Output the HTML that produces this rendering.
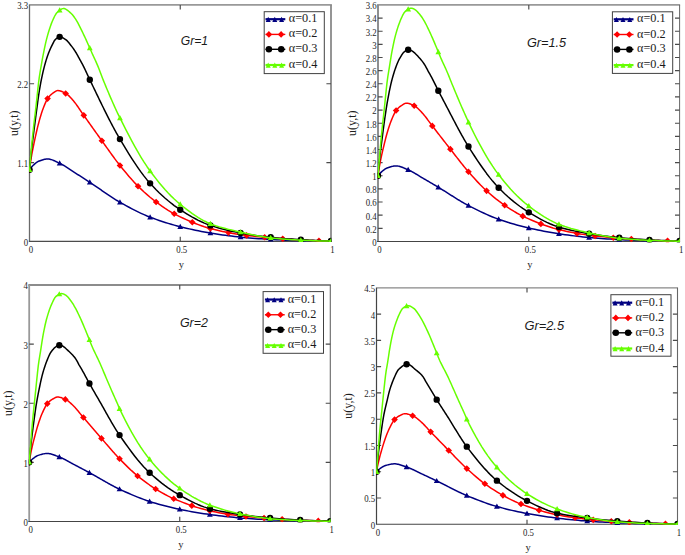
<!DOCTYPE html>
<html lang="en">
<head>
<meta charset="utf-8">
<title>u(y,t) profiles for different Gr</title>
<style>
html,body{margin:0;padding:0;background:#fff;}
body{width:685px;height:555px;overflow:hidden;}
svg{display:block;}
</style>
</head>
<body>
<svg width="685" height="555" viewBox="0 0 685 555">
<rect width="685" height="555" fill="#ffffff"/>
<g>
<path d="M28.85 4.95H331.90" stroke="#999999" stroke-width="1.70" fill="none"/>
<path d="M331.00 4.95V241.40" stroke="#8a8a8a" stroke-width="1.80" fill="none"/>
<path d="M29.50 4.95V241.40" stroke="#6a6a6a" stroke-width="1.30" fill="none"/>
<path d="M28.85 241.40H331.90" stroke="#4c4c4c" stroke-width="1.10" fill="none"/>
<path d="M29.50 162.58h4.6M331.00 162.58h-4.6M29.50 83.77h4.6M331.00 83.77h-4.6M180.25 4.95v4.6M180.25 241.40v-4.6" stroke="#4a4a4a" stroke-width="1.15" fill="none"/>
<g font-family='"Liberation Serif", "DejaVu Serif", serif' font-size="10" fill="#1e1e1e" text-anchor="end">
<text transform="translate(28.20 245.80) scale(0.88 1)">0</text>
<text transform="translate(28.20 166.98) scale(0.88 1)">1.1</text>
<text transform="translate(28.20 88.17) scale(0.88 1)">2.2</text>
<text transform="translate(28.20 9.35) scale(0.88 1)">3.3</text>
</g>
<g font-family='"Liberation Serif", "DejaVu Serif", serif' font-size="10" fill="#1e1e1e" text-anchor="middle">
<text transform="translate(31.00 252.90) scale(0.88 1)">0</text>
<text transform="translate(181.75 252.90) scale(0.88 1)">0.5</text>
<text transform="translate(332.50 252.90) scale(0.88 1)">1</text>
</g>
<text x="181.25" y="268.00" font-family='"Liberation Serif", "DejaVu Serif", serif' font-size="10.5" fill="#1e1e1e" text-anchor="middle">y</text>
<text transform="translate(18.00 123.17) rotate(-90)" font-family='"Liberation Serif", "DejaVu Serif", serif' font-size="12" fill="#1e1e1e" text-anchor="middle">u(y,t)</text>
<text x="180.80" y="44.80" font-family='"Liberation Sans", "DejaVu Sans", sans-serif' font-size="13.2" font-style="italic" fill="#1a1a1a" textLength="27.3" lengthAdjust="spacingAndGlyphs">Gr=1</text>
<clipPath id="c0"><rect x="29.20" y="4.95" width="302.10" height="237.15"/></clipPath>
<g clip-path="url(#c0)">
<path d="M29.50 169.75L30.25 168.74L31.01 167.78L31.76 166.88L32.52 166.05L33.27 165.31L34.02 164.60L34.78 163.91L35.53 163.25L36.28 162.64L37.04 162.10L37.79 161.65L38.55 161.29L39.30 161.00L40.05 160.71L40.81 160.43L41.56 160.17L42.31 159.92L43.07 159.70L43.82 159.50L44.58 159.33L45.33 159.19L46.08 159.09L46.84 159.02L47.59 159.00L48.34 159.03L49.10 159.11L49.85 159.24L50.61 159.42L51.36 159.64L52.11 159.89L52.87 160.17L53.62 160.48L54.37 160.80L55.13 161.15L55.88 161.51L56.63 161.87L57.39 162.23L58.14 162.60L58.90 162.95L59.65 163.30L60.40 163.65L61.16 164.02L61.91 164.42L62.66 164.83L63.42 165.26L64.17 165.71L64.93 166.17L65.68 166.64L66.43 167.12L67.19 167.61L67.94 168.11L68.69 168.62L69.45 169.12L70.20 169.63L70.96 170.14L71.71 170.65L72.46 171.15L73.22 171.65L73.97 172.13L74.72 172.61L75.48 173.09L76.23 173.57L76.99 174.04L77.74 174.52L78.49 175.00L79.25 175.48L80.00 175.96L80.75 176.44L81.51 176.93L82.26 177.41L83.02 177.90L83.77 178.38L84.52 178.87L85.28 179.35L86.03 179.84L86.78 180.33L87.54 180.82L88.29 181.31L89.05 181.80L89.80 182.29L90.55 182.78L91.31 183.28L92.06 183.78L92.81 184.28L93.57 184.79L94.32 185.30L95.08 185.82L95.83 186.33L96.58 186.85L97.34 187.37L98.09 187.89L98.84 188.41L99.60 188.94L100.35 189.46L101.11 189.99L101.86 190.51L102.61 191.04L103.37 191.56L104.12 192.08L104.88 192.60L105.63 193.12L106.38 193.64L107.14 194.15L107.89 194.67L108.64 195.18L109.40 195.68L110.15 196.19L110.91 196.69L111.66 197.18L112.41 197.67L113.17 198.16L113.92 198.64L114.67 199.12L115.43 199.59L116.18 200.05L116.93 200.51L117.69 200.96L118.44 201.41L119.20 201.85L119.95 202.28L122.97 203.97L125.98 205.64L129.00 207.28L132.01 208.87L135.02 210.41L138.04 211.90L141.06 213.33L144.07 214.69L147.09 215.98L150.10 217.18L153.12 218.32L156.13 219.42L159.15 220.47L162.16 221.48L165.17 222.45L168.19 223.38L171.20 224.27L174.22 225.12L177.23 225.93L180.25 226.71L183.27 227.46L186.28 228.18L189.30 228.88L192.31 229.55L195.33 230.19L198.34 230.81L201.36 231.40L204.37 231.97L207.38 232.51L210.40 233.02L213.41 233.51L216.43 233.98L219.44 234.44L222.46 234.89L225.47 235.31L228.49 235.72L231.50 236.10L234.52 236.46L237.53 236.79L240.55 237.10L243.56 237.39L246.58 237.66L249.59 237.92L252.61 238.17L255.62 238.41L258.64 238.63L261.65 238.84L264.67 239.04L267.69 239.22L270.70 239.39L273.72 239.56L276.73 239.71L279.75 239.87L282.76 240.01L285.78 240.15L288.79 240.27L291.81 240.39L294.82 240.50L297.83 240.60L300.85 240.68L303.86 240.76L306.88 240.84L309.89 240.91L312.91 240.98L315.93 241.04L318.94 241.10L321.95 241.15L324.97 241.19L327.99 241.23L331.00 241.26" stroke="#000080" stroke-width="1.5" fill="none" stroke-linejoin="round" stroke-linecap="round"/>
<path d="M29.50 166.75L32.40 171.95L26.60 171.95ZM59.65 160.30L62.55 165.50L56.75 165.50ZM89.80 179.29L92.70 184.49L86.90 184.49ZM119.95 199.28L122.85 204.48L117.05 204.48ZM150.10 214.18L153.00 219.38L147.20 219.38ZM180.25 223.71L183.15 228.91L177.35 228.91ZM210.40 230.02L213.30 235.22L207.50 235.22ZM240.55 234.10L243.45 239.30L237.65 239.30ZM270.70 236.39L273.60 241.59L267.80 241.59ZM300.85 237.68L303.75 242.88L297.95 242.88ZM331.00 238.26L333.90 243.46L328.10 243.46Z" fill="#000080"/>
<path d="M29.50 169.75L30.25 164.21L31.01 159.23L31.76 154.73L32.52 150.62L33.27 146.79L34.02 143.15L34.78 139.63L35.53 136.17L36.28 132.77L37.04 129.48L37.79 126.37L38.55 123.47L39.30 120.68L40.05 118.00L40.81 115.45L41.56 113.06L42.31 110.86L43.07 108.81L43.82 106.81L44.58 104.89L45.33 103.07L46.08 101.39L46.84 99.90L47.59 98.62L48.34 97.57L49.10 96.64L49.85 95.80L50.61 95.04L51.36 94.35L52.11 93.74L52.87 93.18L53.62 92.66L54.37 92.12L55.13 91.61L55.88 91.16L56.63 90.81L57.39 90.61L58.14 90.58L58.90 90.65L59.65 90.78L60.40 90.98L61.16 91.23L61.91 91.53L62.66 91.87L63.42 92.24L64.17 92.63L64.93 93.04L65.68 93.46L66.43 93.88L67.19 94.38L67.94 94.97L68.69 95.64L69.45 96.37L70.20 97.17L70.96 98.00L71.71 98.86L72.46 99.74L73.22 100.61L73.97 101.49L74.72 102.42L75.48 103.40L76.23 104.41L76.99 105.46L77.74 106.54L78.49 107.63L79.25 108.75L80.00 109.87L80.75 110.99L81.51 112.11L82.26 113.21L83.02 114.30L83.77 115.36L84.52 116.42L85.28 117.48L86.03 118.54L86.78 119.60L87.54 120.66L88.29 121.72L89.05 122.78L89.80 123.84L90.55 124.91L91.31 125.97L92.06 127.03L92.81 128.09L93.57 129.15L94.32 130.21L95.08 131.27L95.83 132.32L96.58 133.38L97.34 134.43L98.09 135.49L98.84 136.54L99.60 137.59L100.35 138.64L101.11 139.69L101.86 140.73L102.61 141.78L103.37 142.83L104.12 143.88L104.88 144.94L105.63 146.00L106.38 147.06L107.14 148.12L107.89 149.18L108.64 150.23L109.40 151.29L110.15 152.35L110.91 153.40L111.66 154.44L112.41 155.49L113.17 156.52L113.92 157.55L114.67 158.57L115.43 159.59L116.18 160.59L116.93 161.58L117.69 162.57L118.44 163.54L119.20 164.50L119.95 165.45L122.97 169.19L125.98 172.85L129.00 176.42L132.01 179.86L135.02 183.14L138.04 186.23L141.06 189.16L144.07 191.97L147.09 194.66L150.10 197.23L153.12 199.68L156.13 201.99L159.15 204.22L162.16 206.37L165.17 208.43L168.19 210.37L171.20 212.17L174.22 213.81L177.23 215.34L180.25 216.83L183.27 218.27L186.28 219.66L189.30 221.00L192.31 222.28L195.33 223.49L198.34 224.64L201.36 225.72L204.37 226.73L207.38 227.66L210.40 228.50L213.41 229.29L216.43 230.03L219.44 230.74L222.46 231.40L225.47 232.03L228.49 232.62L231.50 233.17L234.52 233.68L237.53 234.15L240.55 234.59L243.56 235.00L246.58 235.39L249.59 235.75L252.61 236.09L255.62 236.41L258.64 236.72L261.65 237.01L264.67 237.29L267.69 237.56L270.70 237.82L273.72 238.07L276.73 238.32L279.75 238.57L282.76 238.80L285.78 239.03L288.79 239.24L291.81 239.45L294.82 239.63L297.83 239.81L300.85 239.97L303.86 240.11L306.88 240.26L309.89 240.39L312.91 240.52L315.93 240.65L318.94 240.76L321.95 240.87L324.97 240.96L327.99 241.04L331.00 241.11" stroke="#ff0000" stroke-width="1.5" fill="none" stroke-linejoin="round" stroke-linecap="round"/>
<path d="M29.50 166.45L32.80 169.75L29.50 173.05L26.20 169.75ZM47.59 95.32L50.89 98.62L47.59 101.92L44.29 98.62ZM65.68 90.16L68.98 93.46L65.68 96.76L62.38 93.46ZM83.77 112.06L87.07 115.36L83.77 118.66L80.47 115.36ZM101.86 137.43L105.16 140.73L101.86 144.03L98.56 140.73ZM119.95 162.15L123.25 165.45L119.95 168.75L116.65 165.45ZM138.04 182.93L141.34 186.23L138.04 189.53L134.74 186.23ZM156.13 198.69L159.43 201.99L156.13 205.29L152.83 201.99ZM174.22 210.51L177.52 213.81L174.22 217.11L170.92 213.81ZM192.31 218.98L195.61 222.28L192.31 225.58L189.01 222.28ZM210.40 225.20L213.70 228.50L210.40 231.80L207.10 228.50ZM228.49 229.32L231.79 232.62L228.49 235.92L225.19 232.62ZM246.58 232.09L249.88 235.39L246.58 238.69L243.28 235.39ZM264.67 233.99L267.97 237.29L264.67 240.59L261.37 237.29ZM282.76 235.50L286.06 238.80L282.76 242.10L279.46 238.80ZM300.85 236.67L304.15 239.97L300.85 243.27L297.55 239.97ZM318.94 237.46L322.24 240.76L318.94 244.06L315.64 240.76Z" fill="#ff0000"/>
<path d="M29.50 169.75L30.25 161.42L31.01 153.99L31.76 147.59L32.52 141.74L33.27 135.83L34.02 129.90L34.78 124.05L35.53 118.31L36.28 112.66L37.04 107.03L37.79 101.29L38.55 95.81L39.30 90.96L40.05 86.51L40.81 82.40L41.56 78.61L42.31 75.04L43.07 71.68L43.82 68.56L44.58 65.67L45.33 62.95L46.08 60.37L46.84 57.96L47.59 55.71L48.34 53.63L49.10 51.71L49.85 49.93L50.61 48.26L51.36 46.68L52.11 45.14L52.87 43.57L53.62 42.05L54.37 40.71L55.13 39.69L55.88 38.99L56.63 38.35L57.39 37.78L58.14 37.32L58.90 36.99L59.65 36.84L60.40 36.88L61.16 37.04L61.91 37.31L62.66 37.67L63.42 38.09L64.17 38.55L64.93 39.04L65.68 39.54L66.43 40.13L67.19 40.84L67.94 41.66L68.69 42.54L69.45 43.49L70.20 44.46L70.96 45.43L71.71 46.39L72.46 47.38L73.22 48.42L73.97 49.50L74.72 50.62L75.48 51.78L76.23 52.99L76.99 54.29L77.74 55.65L78.49 57.05L79.25 58.46L80.00 59.83L80.75 61.18L81.51 62.54L82.26 63.93L83.02 65.36L83.77 66.85L84.52 68.41L85.28 70.01L86.03 71.64L86.78 73.28L87.54 74.93L88.29 76.56L89.05 78.17L89.80 79.73L90.55 81.29L91.31 82.85L92.06 84.41L92.81 85.98L93.57 87.54L94.32 89.11L95.08 90.68L95.83 92.25L96.58 93.81L97.34 95.38L98.09 96.94L98.84 98.50L99.60 100.06L100.35 101.62L101.11 103.17L101.86 104.72L102.61 106.26L103.37 107.79L104.12 109.32L104.88 110.85L105.63 112.36L106.38 113.87L107.14 115.37L107.89 116.86L108.64 118.34L109.40 119.82L110.15 121.28L110.91 122.73L111.66 124.17L112.41 125.59L113.17 127.01L113.92 128.41L114.67 129.80L115.43 131.17L116.18 132.53L116.93 133.87L117.69 135.20L118.44 136.51L119.20 137.80L119.95 139.08L122.97 144.13L125.98 149.12L129.00 154.02L132.01 158.80L135.02 163.43L138.04 167.88L141.06 172.13L144.07 176.15L147.09 179.90L150.10 183.36L153.12 186.60L156.13 189.71L159.15 192.68L162.16 195.51L165.17 198.22L168.19 200.79L171.20 203.22L174.22 205.53L177.23 207.70L180.25 209.73L183.27 211.67L186.28 213.55L189.30 215.37L192.31 217.11L195.33 218.76L198.34 220.32L201.36 221.78L204.37 223.12L207.38 224.34L210.40 225.42L213.41 226.41L216.43 227.33L219.44 228.19L222.46 229.00L225.47 229.76L228.49 230.48L231.50 231.15L234.52 231.78L237.53 232.38L240.55 232.95L243.56 233.49L246.58 234.01L249.59 234.51L252.61 234.99L255.62 235.44L258.64 235.87L261.65 236.27L264.67 236.65L267.69 236.99L270.70 237.32L273.72 237.62L276.73 237.90L279.75 238.17L282.76 238.43L285.78 238.67L288.79 238.90L291.81 239.12L294.82 239.32L297.83 239.51L300.85 239.68L303.86 239.84L306.88 240.00L309.89 240.16L312.91 240.30L315.93 240.44L318.94 240.57L321.95 240.69L324.97 240.79L327.99 240.89L331.00 240.97" stroke="#000000" stroke-width="1.5" fill="none" stroke-linejoin="round" stroke-linecap="round"/>
<path d="M26.30 169.75a3.2 3.2 0 1 0 6.4 0a3.2 3.2 0 1 0 -6.4 0ZM56.45 36.84a3.2 3.2 0 1 0 6.4 0a3.2 3.2 0 1 0 -6.4 0ZM86.60 79.73a3.2 3.2 0 1 0 6.4 0a3.2 3.2 0 1 0 -6.4 0ZM116.75 139.08a3.2 3.2 0 1 0 6.4 0a3.2 3.2 0 1 0 -6.4 0ZM146.90 183.36a3.2 3.2 0 1 0 6.4 0a3.2 3.2 0 1 0 -6.4 0ZM177.05 209.73a3.2 3.2 0 1 0 6.4 0a3.2 3.2 0 1 0 -6.4 0ZM207.20 225.42a3.2 3.2 0 1 0 6.4 0a3.2 3.2 0 1 0 -6.4 0ZM237.35 232.95a3.2 3.2 0 1 0 6.4 0a3.2 3.2 0 1 0 -6.4 0ZM267.50 237.32a3.2 3.2 0 1 0 6.4 0a3.2 3.2 0 1 0 -6.4 0ZM297.65 239.68a3.2 3.2 0 1 0 6.4 0a3.2 3.2 0 1 0 -6.4 0ZM327.80 240.97a3.2 3.2 0 1 0 6.4 0a3.2 3.2 0 1 0 -6.4 0Z" fill="#000000"/>
<path d="M29.50 169.75L30.25 160.80L31.01 152.33L31.76 144.32L32.52 136.74L33.27 129.52L34.02 122.78L34.78 116.73L35.53 110.70L36.28 103.92L37.04 96.76L37.79 89.69L38.55 82.80L39.30 77.18L40.05 72.39L40.81 67.97L41.56 63.62L42.31 59.39L43.07 55.36L43.82 51.55L44.58 47.89L45.33 44.38L46.08 41.11L46.84 38.14L47.59 35.35L48.34 32.71L49.10 30.23L49.85 27.90L50.61 25.70L51.36 23.63L52.11 21.71L52.87 19.97L53.62 18.35L54.37 16.75L55.13 15.28L55.88 14.03L56.63 13.09L57.39 12.32L58.14 11.59L58.90 10.89L59.65 10.26L60.40 9.69L61.16 9.23L61.91 8.86L62.66 8.63L63.42 8.53L64.17 8.59L64.93 8.79L65.68 9.12L66.43 9.55L67.19 10.07L67.94 10.65L68.69 11.28L69.45 11.93L70.20 12.59L70.96 13.25L71.71 13.98L72.46 14.82L73.22 15.75L73.97 16.76L74.72 17.83L75.48 18.94L76.23 20.08L76.99 21.34L77.74 22.70L78.49 24.14L79.25 25.60L80.00 27.06L80.75 28.56L81.51 30.08L82.26 31.64L83.02 33.22L83.77 34.81L84.52 36.43L85.28 38.05L86.03 39.68L86.78 41.32L87.54 43.00L88.29 44.69L89.05 46.40L89.80 48.11L90.55 49.82L91.31 51.52L92.06 53.20L92.81 54.86L93.57 56.49L94.32 58.12L95.08 59.76L95.83 61.42L96.58 63.11L97.34 64.85L98.09 66.66L98.84 68.55L99.60 70.51L100.35 72.50L101.11 74.51L101.86 76.51L102.61 78.48L103.37 80.38L104.12 82.22L104.88 84.05L105.63 85.87L106.38 87.68L107.14 89.49L107.89 91.28L108.64 93.06L109.40 94.83L110.15 96.59L110.91 98.34L111.66 100.07L112.41 101.78L113.17 103.48L113.92 105.17L114.67 106.83L115.43 108.48L116.18 110.11L116.93 111.72L117.69 113.31L118.44 114.88L119.20 116.42L119.95 117.94L122.97 123.95L125.98 129.88L129.00 135.70L132.01 141.37L135.02 146.89L138.04 152.20L141.06 157.30L144.07 162.14L147.09 166.71L150.10 170.97L153.12 175.00L156.13 178.90L159.15 182.66L162.16 186.26L165.17 189.71L168.19 193.00L171.20 196.12L174.22 199.05L177.23 201.80L180.25 204.36L183.27 206.78L186.28 209.14L189.30 211.42L192.31 213.60L195.33 215.67L198.34 217.61L201.36 219.41L204.37 221.04L207.38 222.50L210.40 223.77L213.41 224.90L216.43 225.93L219.44 226.88L222.46 227.76L225.47 228.58L228.49 229.36L231.50 230.09L234.52 230.79L237.53 231.48L240.55 232.16L243.56 232.83L246.58 233.50L249.59 234.16L252.61 234.80L255.62 235.41L258.64 235.99L261.65 236.53L264.67 237.02L267.69 237.45L270.70 237.82L273.72 238.14L276.73 238.45L279.75 238.73L282.76 239.00L285.78 239.25L288.79 239.48L291.81 239.68L294.82 239.87L297.83 240.04L300.85 240.18L303.86 240.31L306.88 240.44L309.89 240.57L312.91 240.68L315.93 240.79L318.94 240.88L321.95 240.96L324.97 241.03L327.99 241.08L331.00 241.11" stroke="#66ff00" stroke-width="1.5" fill="none" stroke-linejoin="round" stroke-linecap="round"/>
<path d="M29.50 166.75L32.40 171.95L26.60 171.95ZM59.65 7.26L62.55 12.46L56.75 12.46ZM89.80 45.11L92.70 50.31L86.90 50.31ZM119.95 114.94L122.85 120.14L117.05 120.14ZM150.10 167.97L153.00 173.17L147.20 173.17ZM180.25 201.36L183.15 206.56L177.35 206.56ZM210.40 220.77L213.30 225.97L207.50 225.97ZM240.55 229.16L243.45 234.36L237.65 234.36ZM270.70 234.82L273.60 240.02L267.80 240.02ZM300.85 237.18L303.75 242.38L297.95 242.38ZM331.00 238.11L333.90 243.31L328.10 243.31Z" fill="#66ff00"/>
</g>
<rect x="264.20" y="11.70" width="60.10" height="61.90" fill="#ffffff" stroke="#404040" stroke-width="1"/>
<path d="M265.50 19.20H285.30" stroke="#000080" stroke-width="2.2" fill="none"/>
<path d="M268.20 16.80L270.70 21.90L265.70 21.90ZM274.80 16.80L277.30 21.90L272.30 21.90ZM281.60 16.80L284.10 21.90L279.10 21.90Z" fill="#000080"/>
<text x="288.80" y="22.20" font-family='"Liberation Serif", "DejaVu Serif", serif' font-size="12.3" fill="#1a1a1a" textLength="28.6" lengthAdjust="spacingAndGlyphs">α=0.1</text>
<path d="M265.50 34.40H285.30" stroke="#ff0000" stroke-width="1.4" fill="none"/>
<path d="M268.90 31.10L272.20 34.40L268.90 37.70L265.60 34.40ZM281.10 31.10L284.40 34.40L281.10 37.70L277.80 34.40Z" fill="#ff0000"/>
<text x="288.80" y="37.40" font-family='"Liberation Serif", "DejaVu Serif", serif' font-size="12.3" fill="#1a1a1a" textLength="28.6" lengthAdjust="spacingAndGlyphs">α=0.2</text>
<path d="M265.50 49.30H285.30" stroke="#000000" stroke-width="1.4" fill="none"/>
<circle cx="268.90" cy="49.30" r="3.25" fill="#000000"/><circle cx="281.20" cy="49.30" r="3.25" fill="#000000"/>
<text x="288.80" y="52.30" font-family='"Liberation Serif", "DejaVu Serif", serif' font-size="12.3" fill="#1a1a1a" textLength="28.6" lengthAdjust="spacingAndGlyphs">α=0.3</text>
<path d="M265.50 65.00H285.30" stroke="#66ff00" stroke-width="2.2" fill="none"/>
<path d="M268.20 62.60L270.70 67.70L265.70 67.70ZM274.80 62.60L277.30 67.70L272.30 67.70ZM281.60 62.60L284.10 67.70L279.10 67.70Z" fill="#66ff00"/>
<text x="288.80" y="68.00" font-family='"Liberation Serif", "DejaVu Serif", serif' font-size="12.3" fill="#1a1a1a" textLength="28.6" lengthAdjust="spacingAndGlyphs">α=0.4</text>
</g>
<g>
<path d="M377.05 4.95H680.10" stroke="#999999" stroke-width="1.70" fill="none"/>
<path d="M679.60 4.95V241.45" stroke="#666666" stroke-width="1.00" fill="none"/>
<path d="M378.00 4.95V241.45" stroke="#8a8a8a" stroke-width="1.90" fill="none"/>
<path d="M377.05 241.45H680.10" stroke="#444444" stroke-width="1.10" fill="none"/>
<path d="M378.00 228.31h4.6M679.60 228.31h-4.6M378.00 215.17h4.6M679.60 215.17h-4.6M378.00 202.03h4.6M679.60 202.03h-4.6M378.00 188.89h4.6M679.60 188.89h-4.6M378.00 175.76h4.6M679.60 175.76h-4.6M378.00 162.62h4.6M679.60 162.62h-4.6M378.00 149.48h4.6M679.60 149.48h-4.6M378.00 136.34h4.6M679.60 136.34h-4.6M378.00 123.20h4.6M679.60 123.20h-4.6M378.00 110.06h4.6M679.60 110.06h-4.6M378.00 96.92h4.6M679.60 96.92h-4.6M378.00 83.78h4.6M679.60 83.78h-4.6M378.00 70.64h4.6M679.60 70.64h-4.6M378.00 57.51h4.6M679.60 57.51h-4.6M378.00 44.37h4.6M679.60 44.37h-4.6M378.00 31.23h4.6M679.60 31.23h-4.6M378.00 18.09h4.6M679.60 18.09h-4.6M528.80 4.95v4.6M528.80 241.45v-4.6" stroke="#4a4a4a" stroke-width="1.15" fill="none"/>
<g font-family='"Liberation Serif", "DejaVu Serif", serif' font-size="10" fill="#1e1e1e" text-anchor="end">
<text transform="translate(376.70 245.85) scale(0.88 1)">0</text>
<text transform="translate(376.70 232.71) scale(0.88 1)">0.2</text>
<text transform="translate(376.70 219.57) scale(0.88 1)">0.4</text>
<text transform="translate(376.70 206.43) scale(0.88 1)">0.6</text>
<text transform="translate(376.70 193.29) scale(0.88 1)">0.8</text>
<text transform="translate(376.70 180.16) scale(0.88 1)">1</text>
<text transform="translate(376.70 167.02) scale(0.88 1)">1.2</text>
<text transform="translate(376.70 153.88) scale(0.88 1)">1.4</text>
<text transform="translate(376.70 140.74) scale(0.88 1)">1.6</text>
<text transform="translate(376.70 127.60) scale(0.88 1)">1.8</text>
<text transform="translate(376.70 114.46) scale(0.88 1)">2</text>
<text transform="translate(376.70 101.32) scale(0.88 1)">2.2</text>
<text transform="translate(376.70 88.18) scale(0.88 1)">2.4</text>
<text transform="translate(376.70 75.04) scale(0.88 1)">2.6</text>
<text transform="translate(376.70 61.91) scale(0.88 1)">2.8</text>
<text transform="translate(376.70 48.77) scale(0.88 1)">3</text>
<text transform="translate(376.70 35.63) scale(0.88 1)">3.2</text>
<text transform="translate(376.70 22.49) scale(0.88 1)">3.4</text>
<text transform="translate(376.70 9.35) scale(0.88 1)">3.6</text>
</g>
<g font-family='"Liberation Serif", "DejaVu Serif", serif' font-size="10" fill="#1e1e1e" text-anchor="middle">
<text transform="translate(379.50 252.95) scale(0.88 1)">0</text>
<text transform="translate(530.30 252.95) scale(0.88 1)">0.5</text>
<text transform="translate(681.10 252.95) scale(0.88 1)">1</text>
</g>
<text x="529.80" y="268.05" font-family='"Liberation Serif", "DejaVu Serif", serif' font-size="10.5" fill="#1e1e1e" text-anchor="middle">y</text>
<text transform="translate(356.00 123.20) rotate(-90)" font-family='"Liberation Serif", "DejaVu Serif", serif' font-size="12" fill="#1e1e1e" text-anchor="middle">u(y,t)</text>
<text x="526.90" y="46.90" font-family='"Liberation Sans", "DejaVu Sans", sans-serif' font-size="13.2" font-style="italic" fill="#1a1a1a" textLength="39.2" lengthAdjust="spacingAndGlyphs">Gr=1.5</text>
<clipPath id="c1"><rect x="377.70" y="4.95" width="302.20" height="237.20"/></clipPath>
<g clip-path="url(#c1)">
<path d="M378.00 175.76L378.75 174.83L379.51 173.95L380.26 173.12L381.02 172.36L381.77 171.68L382.52 171.03L383.28 170.40L384.03 169.80L384.79 169.24L385.54 168.75L386.29 168.33L387.05 168.00L387.80 167.73L388.56 167.47L389.31 167.21L390.06 166.97L390.82 166.75L391.57 166.54L392.33 166.36L393.08 166.20L393.83 166.08L394.59 165.98L395.34 165.92L396.10 165.90L396.85 165.93L397.60 166.00L398.36 166.12L399.11 166.29L399.87 166.48L400.62 166.71L401.37 166.97L402.13 167.25L402.88 167.55L403.64 167.87L404.39 168.20L405.14 168.53L405.90 168.87L406.65 169.20L407.41 169.53L408.16 169.84L408.91 170.16L409.67 170.51L410.42 170.87L411.18 171.24L411.93 171.64L412.68 172.05L413.44 172.47L414.19 172.90L414.95 173.35L415.70 173.80L416.45 174.26L417.21 174.72L417.96 175.18L418.72 175.65L419.47 176.12L420.22 176.58L420.98 177.04L421.73 177.50L422.49 177.94L423.24 178.38L423.99 178.82L424.75 179.26L425.50 179.69L426.26 180.13L427.01 180.57L427.76 181.01L428.52 181.45L429.27 181.89L430.03 182.34L430.78 182.78L431.53 183.22L432.29 183.67L433.04 184.12L433.80 184.56L434.55 185.01L435.30 185.46L436.06 185.90L436.81 186.35L437.57 186.80L438.32 187.25L439.07 187.70L439.83 188.16L440.58 188.62L441.34 189.08L442.09 189.55L442.84 190.02L443.60 190.49L444.35 190.96L445.11 191.44L445.86 191.91L446.61 192.39L447.37 192.87L448.12 193.35L448.88 193.83L449.63 194.31L450.38 194.79L451.14 195.27L451.89 195.75L452.65 196.23L453.40 196.71L454.15 197.19L454.91 197.66L455.66 198.13L456.42 198.60L457.17 199.07L457.92 199.53L458.68 200.00L459.43 200.45L460.19 200.91L460.94 201.36L461.69 201.80L462.45 202.25L463.20 202.68L463.96 203.11L464.71 203.54L465.46 203.96L466.22 204.38L466.97 204.78L467.73 205.19L468.48 205.58L471.50 207.14L474.51 208.66L477.53 210.16L480.54 211.62L483.56 213.04L486.58 214.40L489.59 215.71L492.61 216.96L495.62 218.14L498.64 219.25L501.66 220.29L504.67 221.30L507.69 222.26L510.70 223.19L513.72 224.08L516.74 224.93L519.75 225.74L522.77 226.52L525.78 227.27L528.80 227.98L531.82 228.67L534.83 229.33L537.85 229.97L540.86 230.58L543.88 231.17L546.90 231.74L549.91 232.29L552.93 232.80L555.94 233.30L558.96 233.76L561.98 234.21L564.99 234.65L568.01 235.07L571.02 235.48L574.04 235.87L577.06 236.24L580.07 236.59L583.09 236.92L586.10 237.23L589.12 237.51L592.14 237.77L595.15 238.02L598.17 238.26L601.18 238.49L604.20 238.71L607.22 238.91L610.23 239.10L613.25 239.28L616.26 239.45L619.28 239.61L622.30 239.76L625.31 239.90L628.33 240.04L631.34 240.17L634.36 240.30L637.38 240.42L640.39 240.53L643.41 240.63L646.42 240.71L649.44 240.79L652.46 240.86L655.47 240.93L658.49 241.00L661.50 241.06L664.52 241.12L667.54 241.18L670.55 241.22L673.57 241.26L676.58 241.29L679.60 241.32" stroke="#000080" stroke-width="1.5" fill="none" stroke-linejoin="round" stroke-linecap="round"/>
<path d="M378.00 172.76L380.90 177.96L375.10 177.96ZM408.16 166.84L411.06 172.04L405.26 172.04ZM438.32 184.25L441.22 189.45L435.42 189.45ZM468.48 202.58L471.38 207.78L465.58 207.78ZM498.64 216.25L501.54 221.45L495.74 221.45ZM528.80 224.98L531.70 230.18L525.90 230.18ZM558.96 230.76L561.86 235.96L556.06 235.96ZM589.12 234.51L592.02 239.71L586.22 239.71ZM619.28 236.61L622.18 241.81L616.38 241.81ZM649.44 237.79L652.34 242.99L646.54 242.99ZM679.60 238.32L682.50 243.52L676.70 243.52Z" fill="#000080"/>
<path d="M378.00 175.76L378.75 170.67L379.51 166.11L380.26 161.99L381.02 158.22L381.77 154.70L382.52 151.37L383.28 148.14L384.03 144.97L384.79 141.85L385.54 138.84L386.29 135.98L387.05 133.32L387.80 130.77L388.56 128.31L389.31 125.97L390.06 123.78L390.82 121.76L391.57 119.89L392.33 118.05L393.08 116.29L393.83 114.62L394.59 113.08L395.34 111.71L396.10 110.54L396.85 109.58L397.60 108.73L398.36 107.95L399.11 107.26L399.87 106.63L400.62 106.06L401.37 105.56L402.13 105.08L402.88 104.58L403.64 104.11L404.39 103.70L405.14 103.38L405.90 103.20L406.65 103.17L407.41 103.23L408.16 103.36L408.91 103.54L409.67 103.77L410.42 104.04L411.18 104.35L411.93 104.69L412.68 105.05L413.44 105.43L414.19 105.81L414.95 106.20L415.70 106.65L416.45 107.19L417.21 107.81L417.96 108.48L418.72 109.21L419.47 109.97L420.22 110.76L420.98 111.57L421.73 112.37L422.49 113.18L423.24 114.03L423.99 114.92L424.75 115.85L425.50 116.81L426.26 117.80L427.01 118.81L427.76 119.83L428.52 120.85L429.27 121.88L430.03 122.90L430.78 123.92L431.53 124.91L432.29 125.89L433.04 126.86L433.80 127.83L434.55 128.80L435.30 129.77L436.06 130.75L436.81 131.72L437.57 132.69L438.32 133.67L439.07 134.64L439.83 135.61L440.58 136.59L441.34 137.56L442.09 138.53L442.84 139.50L443.60 140.47L444.35 141.44L445.11 142.41L445.86 143.38L446.61 144.34L447.37 145.31L448.12 146.27L448.88 147.23L449.63 148.19L450.38 149.15L451.14 150.11L451.89 151.07L452.65 152.04L453.40 153.01L454.15 153.98L454.91 154.95L455.66 155.92L456.42 156.89L457.17 157.86L457.92 158.83L458.68 159.80L459.43 160.76L460.19 161.72L460.94 162.68L461.69 163.63L462.45 164.57L463.20 165.51L463.96 166.44L464.71 167.36L465.46 168.27L466.22 169.17L466.97 170.06L467.73 170.95L468.48 171.81L471.50 175.24L474.51 178.60L477.53 181.87L480.54 185.02L483.56 188.03L486.58 190.87L489.59 193.55L492.61 196.13L495.62 198.60L498.64 200.95L501.66 203.19L504.67 205.32L507.69 207.36L510.70 209.33L513.72 211.22L516.74 213.00L519.75 214.65L522.77 216.16L525.78 217.56L528.80 218.92L531.82 220.25L534.83 221.52L537.85 222.74L540.86 223.92L543.88 225.03L546.90 226.08L549.91 227.07L552.93 228.00L555.94 228.85L558.96 229.62L561.98 230.34L564.99 231.03L568.01 231.67L571.02 232.28L574.04 232.86L577.06 233.40L580.07 233.90L583.09 234.37L586.10 234.81L589.12 235.21L592.14 235.58L595.15 235.94L598.17 236.27L601.18 236.58L604.20 236.87L607.22 237.16L610.23 237.42L613.25 237.68L616.26 237.93L619.28 238.17L622.30 238.40L625.31 238.63L628.33 238.85L631.34 239.07L634.36 239.27L637.38 239.47L640.39 239.66L643.41 239.83L646.42 239.99L649.44 240.14L652.46 240.27L655.47 240.40L658.49 240.53L661.50 240.65L664.52 240.76L667.54 240.86L670.55 240.96L673.57 241.05L676.58 241.12L679.60 241.19" stroke="#ff0000" stroke-width="1.5" fill="none" stroke-linejoin="round" stroke-linecap="round"/>
<path d="M378.00 172.46L381.30 175.76L378.00 179.06L374.70 175.76ZM396.10 107.24L399.40 110.54L396.10 113.84L392.80 110.54ZM414.19 102.51L417.49 105.81L414.19 109.11L410.89 105.81ZM432.29 122.59L435.59 125.89L432.29 129.19L428.99 125.89ZM450.38 145.85L453.68 149.15L450.38 152.45L447.08 149.15ZM468.48 168.51L471.78 171.81L468.48 175.11L465.18 171.81ZM486.58 187.57L489.88 190.87L486.58 194.17L483.28 190.87ZM504.67 202.02L507.97 205.32L504.67 208.62L501.37 205.32ZM522.77 212.86L526.07 216.16L522.77 219.46L519.47 216.16ZM540.86 220.62L544.16 223.92L540.86 227.22L537.56 223.92ZM558.96 226.32L562.26 229.62L558.96 232.93L555.66 229.62ZM577.06 230.10L580.36 233.40L577.06 236.70L573.76 233.40ZM595.15 232.64L598.45 235.94L595.15 239.24L591.85 235.94ZM613.25 234.38L616.55 237.68L613.25 240.98L609.95 237.68ZM631.34 235.77L634.64 239.07L631.34 242.37L628.04 239.07ZM649.44 236.84L652.74 240.14L649.44 243.44L646.14 240.14ZM667.54 237.56L670.84 240.86L667.54 244.16L664.24 240.86Z" fill="#ff0000"/>
<path d="M378.00 175.76L378.75 167.46L379.51 159.92L380.26 153.24L381.02 147.13L381.77 141.15L382.52 135.28L383.28 129.52L384.03 123.89L384.79 118.48L385.54 113.34L386.29 108.35L387.05 103.64L387.80 99.36L388.56 95.30L389.31 91.44L390.06 87.81L390.82 84.40L391.57 81.28L392.33 78.40L393.08 75.73L393.83 73.22L394.59 70.85L395.34 68.62L396.10 66.53L396.85 64.58L397.60 62.72L398.36 60.98L399.11 59.40L399.87 58.02L400.62 56.78L401.37 55.52L402.13 54.32L402.88 53.24L403.64 52.37L404.39 51.72L405.14 51.14L405.90 50.62L406.65 50.20L407.41 49.89L408.16 49.73L408.91 49.71L409.67 49.83L410.42 50.08L411.18 50.44L411.93 50.89L412.68 51.40L413.44 51.96L414.19 52.54L414.95 53.19L415.70 53.92L416.45 54.69L417.21 55.50L417.96 56.32L418.72 57.16L419.47 58.00L420.22 58.85L420.98 59.73L421.73 60.65L422.49 61.62L423.24 62.64L423.99 63.71L424.75 64.85L425.50 66.14L426.26 67.53L427.01 68.97L427.76 70.40L428.52 71.77L429.27 73.10L430.03 74.44L430.78 75.78L431.53 77.16L432.29 78.59L433.04 80.06L433.80 81.57L434.55 83.10L435.30 84.64L436.06 86.18L436.81 87.71L437.57 89.21L438.32 90.68L439.07 92.14L439.83 93.59L440.58 95.04L441.34 96.49L442.09 97.94L442.84 99.38L443.60 100.82L444.35 102.26L445.11 103.71L445.86 105.14L446.61 106.58L447.37 108.02L448.12 109.46L448.88 110.90L449.63 112.35L450.38 113.79L451.14 115.24L451.89 116.68L452.65 118.13L453.40 119.57L454.15 121.01L454.91 122.45L455.66 123.88L456.42 125.31L457.17 126.73L457.92 128.14L458.68 129.55L459.43 130.94L460.19 132.33L460.94 133.70L461.69 135.06L462.45 136.40L463.20 137.73L463.96 139.05L464.71 140.35L465.46 141.63L466.22 142.90L466.97 144.14L467.73 145.36L468.48 146.57L471.50 151.30L474.51 155.97L477.53 160.54L480.54 164.99L483.56 169.29L486.58 173.43L489.59 177.37L492.61 181.10L495.62 184.58L498.64 187.80L501.66 190.81L504.67 193.70L507.69 196.46L510.70 199.09L513.72 201.61L516.74 203.99L519.75 206.26L522.77 208.40L525.78 210.42L528.80 212.33L531.82 214.15L534.83 215.92L537.85 217.64L540.86 219.29L543.88 220.86L546.90 222.33L549.91 223.70L552.93 224.96L555.94 226.08L558.96 227.06L561.98 227.94L564.99 228.75L568.01 229.51L571.02 230.22L574.04 230.87L577.06 231.49L580.07 232.07L583.09 232.62L586.10 233.15L589.12 233.65L592.14 234.14L595.15 234.61L598.17 235.06L601.18 235.50L604.20 235.91L607.22 236.30L610.23 236.67L613.25 237.02L616.26 237.34L619.28 237.64L622.30 237.92L625.31 238.19L628.33 238.45L631.34 238.69L634.36 238.92L637.38 239.14L640.39 239.34L643.41 239.53L646.42 239.71L649.44 239.87L652.46 240.03L655.47 240.17L658.49 240.31L661.50 240.45L664.52 240.58L667.54 240.69L670.55 240.80L673.57 240.90L676.58 240.98L679.60 241.06" stroke="#000000" stroke-width="1.5" fill="none" stroke-linejoin="round" stroke-linecap="round"/>
<path d="M374.80 175.76a3.2 3.2 0 1 0 6.4 0a3.2 3.2 0 1 0 -6.4 0ZM404.96 49.73a3.2 3.2 0 1 0 6.4 0a3.2 3.2 0 1 0 -6.4 0ZM435.12 90.68a3.2 3.2 0 1 0 6.4 0a3.2 3.2 0 1 0 -6.4 0ZM465.28 146.57a3.2 3.2 0 1 0 6.4 0a3.2 3.2 0 1 0 -6.4 0ZM495.44 187.80a3.2 3.2 0 1 0 6.4 0a3.2 3.2 0 1 0 -6.4 0ZM525.60 212.33a3.2 3.2 0 1 0 6.4 0a3.2 3.2 0 1 0 -6.4 0ZM555.76 227.06a3.2 3.2 0 1 0 6.4 0a3.2 3.2 0 1 0 -6.4 0ZM585.92 233.65a3.2 3.2 0 1 0 6.4 0a3.2 3.2 0 1 0 -6.4 0ZM616.08 237.64a3.2 3.2 0 1 0 6.4 0a3.2 3.2 0 1 0 -6.4 0ZM646.24 239.87a3.2 3.2 0 1 0 6.4 0a3.2 3.2 0 1 0 -6.4 0ZM676.40 241.06a3.2 3.2 0 1 0 6.4 0a3.2 3.2 0 1 0 -6.4 0Z" fill="#000000"/>
<path d="M378.00 175.76L378.75 166.38L379.51 157.29L380.26 148.39L381.02 139.80L381.77 131.99L382.52 124.80L383.28 118.03L384.03 111.23L384.79 104.02L385.54 96.64L386.29 89.34L387.05 82.45L387.80 76.85L388.56 72.09L389.31 67.57L390.06 62.84L390.82 58.12L391.57 53.73L392.33 49.69L393.08 45.85L393.83 42.25L394.59 38.93L395.34 35.92L396.10 33.15L396.85 30.56L397.60 28.14L398.36 25.86L399.11 23.70L399.87 21.68L400.62 19.82L401.37 18.11L402.13 16.48L402.88 14.92L403.64 13.53L404.39 12.41L405.14 11.61L405.90 10.93L406.65 10.29L407.41 9.71L408.16 9.19L408.91 8.77L409.67 8.44L410.42 8.24L411.18 8.16L411.93 8.22L412.68 8.41L413.44 8.72L414.19 9.12L414.95 9.59L415.70 10.14L416.45 10.81L417.21 11.56L417.96 12.37L418.72 13.21L419.47 14.07L420.22 14.98L420.98 15.96L421.73 17.03L422.49 18.18L423.24 19.38L423.99 20.63L424.75 21.91L425.50 23.29L426.26 24.75L427.01 26.27L427.76 27.82L428.52 29.38L429.27 30.96L430.03 32.59L430.78 34.25L431.53 35.94L432.29 37.65L433.04 39.39L433.80 41.15L434.55 42.91L435.30 44.68L436.06 46.47L436.81 48.28L437.57 50.12L438.32 51.97L439.07 53.81L439.83 55.63L440.58 57.42L441.34 59.15L442.09 60.83L442.84 62.48L443.60 64.11L444.35 65.74L445.11 67.37L445.86 69.03L446.61 70.72L447.37 72.48L448.12 74.28L448.88 76.14L449.63 78.02L450.38 79.91L451.14 81.80L451.89 83.66L452.65 85.49L453.40 87.31L454.15 89.14L454.91 90.95L455.66 92.75L456.42 94.55L457.17 96.35L457.92 98.13L458.68 99.91L459.43 101.69L460.19 103.45L460.94 105.20L461.69 106.93L462.45 108.65L463.20 110.35L463.96 112.04L464.71 113.72L465.46 115.39L466.22 117.07L466.97 118.76L467.73 120.50L468.48 122.19L471.50 128.42L474.51 134.47L477.53 140.32L480.54 145.97L483.56 151.40L486.58 156.59L489.59 161.53L492.61 166.19L495.62 170.58L498.64 174.66L501.66 178.52L504.67 182.22L507.69 185.77L510.70 189.17L513.72 192.41L516.74 195.49L519.75 198.40L522.77 201.14L525.78 203.71L528.80 206.11L531.82 208.38L534.83 210.58L537.85 212.70L540.86 214.72L543.88 216.64L546.90 218.45L549.91 220.13L552.93 221.67L555.94 223.08L558.96 224.33L561.98 225.45L564.99 226.51L568.01 227.49L571.02 228.42L574.04 229.28L577.06 230.09L580.07 230.86L583.09 231.59L586.10 232.29L589.12 232.95L592.14 233.60L595.15 234.25L598.17 234.87L601.18 235.47L604.20 236.04L607.22 236.58L610.23 237.07L613.25 237.52L616.26 237.92L619.28 238.25L622.30 238.55L625.31 238.82L628.33 239.08L631.34 239.32L634.36 239.55L637.38 239.75L640.39 239.94L643.41 240.10L646.42 240.25L649.44 240.38L652.46 240.49L655.47 240.61L658.49 240.71L661.50 240.82L664.52 240.91L667.54 240.99L670.55 241.06L673.57 241.12L676.58 241.16L679.60 241.19" stroke="#66ff00" stroke-width="1.5" fill="none" stroke-linejoin="round" stroke-linecap="round"/>
<path d="M378.00 172.76L380.90 177.96L375.10 177.96ZM408.16 6.19L411.06 11.39L405.26 11.39ZM438.32 48.97L441.22 54.17L435.42 54.17ZM468.48 119.19L471.38 124.39L465.58 124.39ZM498.64 171.66L501.54 176.86L495.74 176.86ZM528.80 203.11L531.70 208.31L525.90 208.31ZM558.96 221.33L561.86 226.53L556.06 226.53ZM589.12 229.95L592.02 235.15L586.22 235.15ZM619.28 235.25L622.18 240.45L616.38 240.45ZM649.44 237.38L652.34 242.58L646.54 242.58ZM679.60 238.19L682.50 243.39L676.70 243.39Z" fill="#66ff00"/>
</g>
<rect x="612.40" y="11.80" width="60.30" height="61.60" fill="#ffffff" stroke="#404040" stroke-width="1"/>
<path d="M613.70 19.30H633.50" stroke="#000080" stroke-width="2.2" fill="none"/>
<path d="M616.40 16.90L618.90 22.00L613.90 22.00ZM623.00 16.90L625.50 22.00L620.50 22.00ZM629.80 16.90L632.30 22.00L627.30 22.00Z" fill="#000080"/>
<text x="637.00" y="22.30" font-family='"Liberation Serif", "DejaVu Serif", serif' font-size="12.3" fill="#1a1a1a" textLength="28.6" lengthAdjust="spacingAndGlyphs">α=0.1</text>
<path d="M613.70 34.50H633.50" stroke="#ff0000" stroke-width="1.4" fill="none"/>
<path d="M617.10 31.20L620.40 34.50L617.10 37.80L613.80 34.50ZM629.30 31.20L632.60 34.50L629.30 37.80L626.00 34.50Z" fill="#ff0000"/>
<text x="637.00" y="37.50" font-family='"Liberation Serif", "DejaVu Serif", serif' font-size="12.3" fill="#1a1a1a" textLength="28.6" lengthAdjust="spacingAndGlyphs">α=0.2</text>
<path d="M613.70 49.40H633.50" stroke="#000000" stroke-width="1.4" fill="none"/>
<circle cx="617.10" cy="49.40" r="3.25" fill="#000000"/><circle cx="629.40" cy="49.40" r="3.25" fill="#000000"/>
<text x="637.00" y="52.40" font-family='"Liberation Serif", "DejaVu Serif", serif' font-size="12.3" fill="#1a1a1a" textLength="28.6" lengthAdjust="spacingAndGlyphs">α=0.3</text>
<path d="M613.70 65.10H633.50" stroke="#66ff00" stroke-width="2.2" fill="none"/>
<path d="M616.40 62.70L618.90 67.80L613.90 67.80ZM623.00 62.70L625.50 67.80L620.50 67.80ZM629.80 62.70L632.30 67.80L627.30 67.80Z" fill="#66ff00"/>
<text x="637.00" y="68.10" font-family='"Liberation Serif", "DejaVu Serif", serif' font-size="12.3" fill="#1a1a1a" textLength="28.6" lengthAdjust="spacingAndGlyphs">α=0.4</text>
</g>
<g>
<path d="M28.30 285.00H330.85" stroke="#666666" stroke-width="1.30" fill="none"/>
<path d="M330.30 285.00V521.45" stroke="#666666" stroke-width="1.10" fill="none"/>
<path d="M29.20 285.00V521.45" stroke="#999999" stroke-width="1.80" fill="none"/>
<path d="M28.30 521.45H330.85" stroke="#444444" stroke-width="1.10" fill="none"/>
<path d="M29.20 462.34h4.6M330.30 462.34h-4.6M29.20 403.23h4.6M330.30 403.23h-4.6M29.20 344.11h4.6M330.30 344.11h-4.6M179.75 285.00v4.6M179.75 521.45v-4.6" stroke="#4a4a4a" stroke-width="1.15" fill="none"/>
<g font-family='"Liberation Serif", "DejaVu Serif", serif' font-size="10" fill="#1e1e1e" text-anchor="end">
<text transform="translate(27.90 525.85) scale(0.88 1)">0</text>
<text transform="translate(27.90 466.74) scale(0.88 1)">1</text>
<text transform="translate(27.90 407.62) scale(0.88 1)">2</text>
<text transform="translate(27.90 348.51) scale(0.88 1)">3</text>
<text transform="translate(27.90 289.40) scale(0.88 1)">4</text>
</g>
<g font-family='"Liberation Serif", "DejaVu Serif", serif' font-size="10" fill="#1e1e1e" text-anchor="middle">
<text transform="translate(30.70 532.95) scale(0.88 1)">0</text>
<text transform="translate(181.25 532.95) scale(0.88 1)">0.5</text>
<text transform="translate(331.80 532.95) scale(0.88 1)">1</text>
</g>
<text x="180.75" y="548.05" font-family='"Liberation Serif", "DejaVu Serif", serif' font-size="10.5" fill="#1e1e1e" text-anchor="middle">y</text>
<text transform="translate(11.70 403.23) rotate(-90)" font-family='"Liberation Serif", "DejaVu Serif", serif' font-size="12" fill="#1e1e1e" text-anchor="middle">u(y,t)</text>
<text x="179.90" y="326.90" font-family='"Liberation Sans", "DejaVu Sans", sans-serif' font-size="13.2" font-style="italic" fill="#1a1a1a" textLength="28.0" lengthAdjust="spacingAndGlyphs">Gr=2</text>
<clipPath id="c2"><rect x="28.90" y="285.00" width="301.70" height="237.15"/></clipPath>
<g clip-path="url(#c2)">
<path d="M29.20 462.34L29.95 461.51L30.71 460.71L31.46 459.97L32.21 459.29L32.96 458.67L33.72 458.09L34.47 457.52L35.22 456.98L35.97 456.48L36.73 456.03L37.48 455.66L38.23 455.36L38.99 455.12L39.74 454.88L40.49 454.65L41.24 454.43L42.00 454.23L42.75 454.05L43.50 453.88L44.26 453.74L45.01 453.63L45.76 453.54L46.51 453.49L47.27 453.47L48.02 453.49L48.77 453.56L49.52 453.67L50.28 453.82L51.03 453.99L51.78 454.20L52.54 454.43L53.29 454.69L54.04 454.96L54.79 455.24L55.55 455.54L56.30 455.84L57.05 456.14L57.80 456.44L58.56 456.73L59.31 457.02L60.06 457.31L60.82 457.61L61.57 457.94L62.32 458.28L63.07 458.63L63.83 459.00L64.58 459.38L65.33 459.77L66.08 460.17L66.84 460.58L67.59 460.99L68.34 461.40L69.10 461.82L69.85 462.24L70.60 462.66L71.35 463.08L72.11 463.49L72.86 463.90L73.61 464.31L74.36 464.70L75.12 465.09L75.87 465.49L76.62 465.88L77.38 466.28L78.13 466.67L78.88 467.07L79.63 467.46L80.39 467.86L81.14 468.26L81.89 468.66L82.65 469.06L83.40 469.46L84.15 469.86L84.90 470.26L85.66 470.66L86.41 471.07L87.16 471.47L87.91 471.87L88.67 472.28L89.42 472.68L90.17 473.09L90.93 473.50L91.68 473.91L92.43 474.33L93.18 474.75L93.94 475.17L94.69 475.59L95.44 476.02L96.19 476.45L96.95 476.88L97.70 477.31L98.45 477.74L99.21 478.17L99.96 478.60L100.71 479.03L101.46 479.47L102.22 479.90L102.97 480.33L103.72 480.76L104.48 481.19L105.23 481.62L105.98 482.05L106.73 482.47L107.49 482.90L108.24 483.32L108.99 483.73L109.74 484.15L110.50 484.56L111.25 484.97L112.00 485.38L112.76 485.78L113.51 486.17L114.26 486.57L115.01 486.96L115.77 487.34L116.52 487.72L117.27 488.09L118.02 488.46L118.78 488.82L119.53 489.17L122.54 490.57L125.55 491.95L128.56 493.30L131.57 494.61L134.59 495.88L137.60 497.11L140.61 498.29L143.62 499.41L146.63 500.48L149.64 501.47L152.65 502.41L155.66 503.31L158.67 504.18L161.68 505.02L164.69 505.82L167.71 506.58L170.72 507.32L173.73 508.02L176.74 508.69L179.75 509.33L182.76 509.95L185.77 510.54L188.78 511.12L191.79 511.67L194.81 512.20L197.82 512.71L200.83 513.20L203.84 513.67L206.85 514.11L209.86 514.53L212.87 514.94L215.88 515.33L218.89 515.71L221.90 516.08L224.92 516.43L227.93 516.76L230.94 517.08L233.95 517.37L236.96 517.65L239.97 517.90L242.98 518.14L245.99 518.37L249.00 518.58L252.01 518.79L255.03 518.98L258.04 519.17L261.05 519.34L264.06 519.50L267.07 519.65L270.08 519.79L273.09 519.93L276.10 520.06L279.11 520.18L282.12 520.30L285.14 520.42L288.15 520.52L291.16 520.62L294.17 520.71L297.18 520.79L300.19 520.86L303.20 520.92L306.21 520.99L309.22 521.05L312.23 521.10L315.25 521.16L318.26 521.20L321.27 521.24L324.28 521.28L327.29 521.31L330.30 521.33" stroke="#000080" stroke-width="1.5" fill="none" stroke-linejoin="round" stroke-linecap="round"/>
<path d="M29.20 459.34L32.10 464.54L26.30 464.54ZM59.31 454.02L62.21 459.22L56.41 459.22ZM89.42 469.68L92.32 474.88L86.52 474.88ZM119.53 486.17L122.43 491.37L116.63 491.37ZM149.64 498.47L152.54 503.67L146.74 503.67ZM179.75 506.33L182.65 511.53L176.85 511.53ZM209.86 511.53L212.76 516.73L206.96 516.73ZM239.97 514.90L242.87 520.10L237.07 520.10ZM270.08 516.79L272.98 521.99L267.18 521.99ZM300.19 517.86L303.09 523.06L297.29 523.06ZM330.30 518.33L333.20 523.53L327.40 523.53Z" fill="#000080"/>
<path d="M29.20 462.34L29.95 457.76L30.71 453.66L31.46 449.95L32.21 446.56L32.96 443.39L33.72 440.39L34.47 437.49L35.22 434.64L35.97 431.83L36.73 429.12L37.48 426.55L38.23 424.16L38.99 421.86L39.74 419.65L40.49 417.54L41.24 415.57L42.00 413.75L42.75 412.07L43.50 410.42L44.26 408.83L45.01 407.33L45.76 405.94L46.51 404.71L47.27 403.66L48.02 402.79L48.77 402.02L49.52 401.33L50.28 400.70L51.03 400.14L51.78 399.63L52.54 399.17L53.29 398.74L54.04 398.29L54.79 397.87L55.55 397.50L56.30 397.21L57.05 397.05L57.80 397.02L58.56 397.08L59.31 397.19L60.06 397.36L60.82 397.56L61.57 397.81L62.32 398.09L63.07 398.39L63.83 398.72L64.58 399.05L65.33 399.40L66.08 399.75L66.84 400.16L67.59 400.64L68.34 401.19L69.10 401.80L69.85 402.46L70.60 403.14L71.35 403.86L72.11 404.58L72.86 405.30L73.61 406.03L74.36 406.79L75.12 407.60L75.87 408.43L76.62 409.30L77.38 410.19L78.13 411.09L78.88 412.01L79.63 412.94L80.39 413.86L81.14 414.78L81.89 415.69L82.65 416.59L83.40 417.47L84.15 418.34L84.90 419.21L85.66 420.09L86.41 420.96L87.16 421.84L87.91 422.71L88.67 423.59L89.42 424.47L90.17 425.34L90.93 426.22L91.68 427.09L92.43 427.97L93.18 428.84L93.94 429.72L94.69 430.59L95.44 431.46L96.19 432.33L96.95 433.20L97.70 434.07L98.45 434.94L99.21 435.81L99.96 436.67L100.71 437.54L101.46 438.40L102.22 439.26L102.97 440.13L103.72 441.00L104.48 441.87L105.23 442.74L105.98 443.62L106.73 444.49L107.49 445.36L108.24 446.24L108.99 447.11L109.74 447.98L110.50 448.85L111.25 449.71L112.00 450.57L112.76 451.43L113.51 452.27L114.26 453.12L115.01 453.95L115.77 454.78L116.52 455.60L117.27 456.41L118.02 457.22L118.78 458.01L119.53 458.79L122.54 461.87L125.55 464.90L128.56 467.84L131.57 470.68L134.59 473.38L137.60 475.93L140.61 478.35L143.62 480.67L146.63 482.89L149.64 485.01L152.65 487.03L155.66 488.94L158.67 490.77L161.68 492.55L164.69 494.25L167.71 495.85L170.72 497.34L173.73 498.69L176.74 499.95L179.75 501.18L182.76 502.37L185.77 503.52L188.78 504.62L191.79 505.67L194.81 506.68L197.82 507.62L200.83 508.51L203.84 509.34L206.85 510.11L209.86 510.81L212.87 511.46L215.88 512.07L218.89 512.65L221.90 513.20L224.92 513.72L227.93 514.20L230.94 514.66L233.95 515.08L236.96 515.47L239.97 515.83L242.98 516.17L245.99 516.49L249.00 516.79L252.01 517.07L255.03 517.33L258.04 517.59L261.05 517.83L264.06 518.06L267.07 518.28L270.08 518.49L273.09 518.71L276.10 518.91L279.11 519.11L282.12 519.31L285.14 519.49L288.15 519.67L291.16 519.84L294.17 519.99L297.18 520.14L300.19 520.27L303.20 520.39L306.21 520.51L309.22 520.62L312.23 520.73L315.25 520.83L318.26 520.92L321.27 521.01L324.28 521.09L327.29 521.16L330.30 521.21" stroke="#ff0000" stroke-width="1.5" fill="none" stroke-linejoin="round" stroke-linecap="round"/>
<path d="M29.20 459.04L32.50 462.34L29.20 465.64L25.90 462.34ZM47.27 400.36L50.57 403.66L47.27 406.96L43.97 403.66ZM65.33 396.10L68.63 399.40L65.33 402.70L62.03 399.40ZM83.40 414.17L86.70 417.47L83.40 420.77L80.10 417.47ZM101.46 435.10L104.76 438.40L101.46 441.70L98.16 438.40ZM119.53 455.49L122.83 458.79L119.53 462.09L116.23 458.79ZM137.60 472.63L140.90 475.93L137.60 479.23L134.30 475.93ZM155.66 485.64L158.96 488.94L155.66 492.24L152.36 488.94ZM173.73 495.39L177.03 498.69L173.73 501.99L170.43 498.69ZM191.79 502.37L195.09 505.67L191.79 508.97L188.49 505.67ZM209.86 507.51L213.16 510.81L209.86 514.11L206.56 510.81ZM227.93 510.90L231.23 514.20L227.93 517.50L224.63 514.20ZM245.99 513.19L249.29 516.49L245.99 519.79L242.69 516.49ZM264.06 514.76L267.36 518.06L264.06 521.36L260.76 518.06ZM282.12 516.01L285.42 519.31L282.12 522.61L278.82 519.31ZM300.19 516.97L303.49 520.27L300.19 523.57L296.89 520.27ZM318.26 517.62L321.56 520.92L318.26 524.22L314.96 520.92Z" fill="#ff0000"/>
<path d="M29.20 462.34L29.95 454.28L30.71 446.84L31.46 440.10L32.21 433.93L32.96 428.05L33.72 422.38L34.47 416.83L35.22 411.43L35.97 406.36L36.73 401.76L37.48 397.51L38.23 393.55L38.99 389.86L39.74 386.23L40.49 382.66L41.24 379.25L42.00 376.07L42.75 373.21L43.50 370.61L44.26 368.19L45.01 365.92L45.76 363.78L46.51 361.76L47.27 359.86L48.02 358.06L48.77 356.29L49.52 354.64L50.28 353.17L51.03 351.99L51.78 351.02L52.54 350.06L53.29 349.15L54.04 348.31L54.79 347.59L55.55 347.00L56.30 346.47L57.05 346.01L57.80 345.63L58.56 345.35L59.31 345.18L60.06 345.13L60.82 345.20L61.57 345.43L62.32 345.78L63.07 346.24L63.83 346.79L64.58 347.39L65.33 348.03L66.08 348.71L66.84 349.43L67.59 350.15L68.34 350.86L69.10 351.56L69.85 352.27L70.60 352.99L71.35 353.73L72.11 354.49L72.86 355.30L73.61 356.15L74.36 357.05L75.12 358.02L75.87 359.08L76.62 360.33L77.38 361.70L78.13 363.14L78.88 364.55L79.63 365.88L80.39 367.17L81.14 368.45L81.89 369.73L82.65 371.03L83.40 372.36L84.15 373.73L84.90 375.12L85.66 376.53L86.41 377.95L87.16 379.36L87.91 380.76L88.67 382.14L89.42 383.50L90.17 384.83L90.93 386.16L91.68 387.48L92.43 388.80L93.18 390.11L93.94 391.42L94.69 392.72L95.44 394.02L96.19 395.32L96.95 396.62L97.70 397.92L98.45 399.22L99.21 400.53L99.96 401.84L100.71 403.15L101.46 404.48L102.22 405.81L102.97 407.14L103.72 408.48L104.48 409.82L105.23 411.17L105.98 412.51L106.73 413.85L107.49 415.19L108.24 416.52L108.99 417.85L109.74 419.17L110.50 420.48L111.25 421.78L112.00 423.08L112.76 424.36L113.51 425.62L114.26 426.87L115.01 428.11L115.77 429.33L116.52 430.53L117.27 431.70L118.02 432.86L118.78 434.00L119.53 435.11L122.54 439.46L125.55 443.75L128.56 447.93L131.57 451.99L134.59 455.92L137.60 459.69L140.61 463.28L143.62 466.67L146.63 469.85L149.64 472.78L152.65 475.53L155.66 478.16L158.67 480.68L161.68 483.08L164.69 485.37L167.71 487.55L170.72 489.61L173.73 491.57L176.74 493.42L179.75 495.16L182.76 496.84L185.77 498.48L188.78 500.08L191.79 501.61L194.81 503.07L197.82 504.44L200.83 505.70L203.84 506.85L206.85 507.87L209.86 508.74L212.87 509.51L215.88 510.21L218.89 510.86L221.90 511.46L224.92 512.02L227.93 512.54L230.94 513.03L233.95 513.50L236.96 513.96L239.97 514.40L242.98 514.83L245.99 515.24L249.00 515.64L252.01 516.03L255.03 516.40L258.04 516.75L261.05 517.08L264.06 517.40L267.07 517.69L270.08 517.96L273.09 518.22L276.10 518.47L279.11 518.71L282.12 518.93L285.14 519.15L288.15 519.35L291.16 519.54L294.17 519.72L297.18 519.88L300.19 520.03L303.20 520.17L306.21 520.30L309.22 520.43L312.23 520.55L315.25 520.67L318.26 520.77L321.27 520.87L324.28 520.96L327.29 521.03L330.30 521.10" stroke="#000000" stroke-width="1.5" fill="none" stroke-linejoin="round" stroke-linecap="round"/>
<path d="M26.00 462.34a3.2 3.2 0 1 0 6.4 0a3.2 3.2 0 1 0 -6.4 0ZM56.11 345.18a3.2 3.2 0 1 0 6.4 0a3.2 3.2 0 1 0 -6.4 0ZM86.22 383.50a3.2 3.2 0 1 0 6.4 0a3.2 3.2 0 1 0 -6.4 0ZM116.33 435.11a3.2 3.2 0 1 0 6.4 0a3.2 3.2 0 1 0 -6.4 0ZM146.44 472.78a3.2 3.2 0 1 0 6.4 0a3.2 3.2 0 1 0 -6.4 0ZM176.55 495.16a3.2 3.2 0 1 0 6.4 0a3.2 3.2 0 1 0 -6.4 0ZM206.66 508.74a3.2 3.2 0 1 0 6.4 0a3.2 3.2 0 1 0 -6.4 0ZM236.77 514.40a3.2 3.2 0 1 0 6.4 0a3.2 3.2 0 1 0 -6.4 0ZM266.88 517.96a3.2 3.2 0 1 0 6.4 0a3.2 3.2 0 1 0 -6.4 0ZM296.99 520.03a3.2 3.2 0 1 0 6.4 0a3.2 3.2 0 1 0 -6.4 0ZM327.10 521.10a3.2 3.2 0 1 0 6.4 0a3.2 3.2 0 1 0 -6.4 0Z" fill="#000000"/>
<path d="M29.20 462.34L29.95 452.85L30.71 443.48L31.46 434.06L32.21 424.87L32.96 416.77L33.72 409.38L34.47 402.20L35.22 394.92L35.97 387.55L36.73 380.18L37.48 372.87L38.23 366.15L38.99 360.72L39.74 356.10L40.49 351.60L41.24 346.69L42.00 341.68L42.75 337.11L43.50 332.97L44.26 329.09L45.01 325.50L45.76 322.22L46.51 319.27L47.27 316.58L48.02 314.10L48.77 311.79L49.52 309.61L50.28 307.54L51.03 305.60L51.78 303.84L52.54 302.20L53.29 300.61L54.04 299.11L54.79 297.82L55.55 296.85L56.30 296.18L57.05 295.59L57.80 295.05L58.56 294.57L59.31 294.17L60.06 293.86L60.82 293.67L61.57 293.60L62.32 293.66L63.07 293.85L63.83 294.14L64.58 294.52L65.33 294.97L66.08 295.47L66.84 296.03L67.59 296.75L68.34 297.58L69.10 298.50L69.85 299.48L70.60 300.48L71.35 301.51L72.11 302.58L72.86 303.73L73.61 304.97L74.36 306.26L75.12 307.59L75.87 308.95L76.62 310.39L77.38 311.90L78.13 313.46L78.88 315.03L79.63 316.63L80.39 318.25L81.14 319.91L81.89 321.61L82.65 323.35L83.40 325.13L84.15 326.93L84.90 328.74L85.66 330.57L86.41 332.41L87.16 334.25L87.91 336.11L88.67 338.01L89.42 339.92L90.17 341.82L90.93 343.70L91.68 345.53L92.43 347.28L93.18 348.96L93.94 350.58L94.69 352.16L95.44 353.71L96.19 355.26L96.95 356.80L97.70 358.37L98.45 359.97L99.21 361.60L99.96 363.29L100.71 365.02L101.46 366.78L102.22 368.55L102.97 370.33L103.72 372.10L104.48 373.88L105.23 375.65L105.98 377.42L106.73 379.18L107.49 380.94L108.24 382.69L108.99 384.45L109.74 386.21L110.50 387.96L111.25 389.70L112.00 391.43L112.76 393.15L113.51 394.85L114.26 396.53L115.01 398.21L115.77 399.89L116.52 401.58L117.27 403.30L118.02 405.04L118.78 406.89L119.53 408.68L122.54 414.93L125.55 420.92L128.56 426.67L131.57 432.15L134.59 437.37L137.60 442.32L140.61 447.00L143.62 451.41L146.63 455.53L149.64 459.36L152.65 462.97L155.66 466.42L158.67 469.72L161.68 472.86L164.69 475.84L167.71 478.66L170.72 481.33L173.73 483.84L176.74 486.20L179.75 488.41L182.76 490.50L185.77 492.51L188.78 494.44L191.79 496.28L194.81 498.03L197.82 499.68L200.83 501.22L203.84 502.66L206.85 503.98L209.86 505.17L212.87 506.28L215.88 507.32L218.89 508.31L221.90 509.24L224.92 510.12L227.93 510.95L230.94 511.73L233.95 512.46L236.96 513.14L239.97 513.79L242.98 514.40L245.99 515.00L249.00 515.58L252.01 516.13L255.03 516.66L258.04 517.14L261.05 517.59L264.06 518.00L267.07 518.35L270.08 518.65L273.09 518.91L276.10 519.16L279.11 519.39L282.12 519.60L285.14 519.80L288.15 519.98L291.16 520.14L294.17 520.29L297.18 520.41L300.19 520.52L303.20 520.62L306.21 520.72L309.22 520.81L312.23 520.90L315.25 520.98L318.26 521.05L321.27 521.11L324.28 521.16L327.29 521.20L330.30 521.21" stroke="#66ff00" stroke-width="1.5" fill="none" stroke-linejoin="round" stroke-linecap="round"/>
<path d="M29.20 459.34L32.10 464.54L26.30 464.54ZM59.31 291.17L62.21 296.37L56.41 296.37ZM89.42 336.92L92.32 342.12L86.52 342.12ZM119.53 405.68L122.43 410.88L116.63 410.88ZM149.64 456.36L152.54 461.56L146.74 461.56ZM179.75 485.41L182.65 490.61L176.85 490.61ZM209.86 502.17L212.76 507.37L206.96 507.37ZM239.97 510.79L242.87 515.99L237.07 515.99ZM270.08 515.65L272.98 520.85L267.18 520.85ZM300.19 517.52L303.09 522.72L297.29 522.72ZM330.30 518.21L333.20 523.41L327.40 523.41Z" fill="#66ff00"/>
</g>
<rect x="263.10" y="291.60" width="60.40" height="61.70" fill="#ffffff" stroke="#404040" stroke-width="1"/>
<path d="M264.90 299.55H284.70" stroke="#000080" stroke-width="2.2" fill="none"/>
<path d="M267.60 297.15L270.10 302.25L265.10 302.25ZM274.20 297.15L276.70 302.25L271.70 302.25ZM281.00 297.15L283.50 302.25L278.50 302.25Z" fill="#000080"/>
<text x="287.70" y="302.55" font-family='"Liberation Serif", "DejaVu Serif", serif' font-size="12.3" fill="#1a1a1a" textLength="28.6" lengthAdjust="spacingAndGlyphs">α=0.1</text>
<path d="M264.90 314.75H284.70" stroke="#ff0000" stroke-width="1.4" fill="none"/>
<path d="M268.30 311.45L271.60 314.75L268.30 318.05L265.00 314.75ZM280.50 311.45L283.80 314.75L280.50 318.05L277.20 314.75Z" fill="#ff0000"/>
<text x="287.70" y="317.75" font-family='"Liberation Serif", "DejaVu Serif", serif' font-size="12.3" fill="#1a1a1a" textLength="28.6" lengthAdjust="spacingAndGlyphs">α=0.2</text>
<path d="M264.90 329.65H284.70" stroke="#000000" stroke-width="1.4" fill="none"/>
<circle cx="268.30" cy="329.65" r="3.25" fill="#000000"/><circle cx="280.60" cy="329.65" r="3.25" fill="#000000"/>
<text x="287.70" y="332.65" font-family='"Liberation Serif", "DejaVu Serif", serif' font-size="12.3" fill="#1a1a1a" textLength="28.6" lengthAdjust="spacingAndGlyphs">α=0.3</text>
<path d="M264.90 345.35H284.70" stroke="#66ff00" stroke-width="2.2" fill="none"/>
<path d="M267.60 342.95L270.10 348.05L265.10 348.05ZM274.20 342.95L276.70 348.05L271.70 348.05ZM281.00 342.95L283.50 348.05L278.50 348.05Z" fill="#66ff00"/>
<text x="287.70" y="348.35" font-family='"Liberation Serif", "DejaVu Serif", serif' font-size="12.3" fill="#1a1a1a" textLength="28.6" lengthAdjust="spacingAndGlyphs">α=0.4</text>
</g>
<g>
<path d="M375.90 287.90H678.05" stroke="#888888" stroke-width="1.40" fill="none"/>
<path d="M677.50 287.90V524.25" stroke="#666666" stroke-width="1.10" fill="none"/>
<path d="M376.50 287.90V524.25" stroke="#444444" stroke-width="1.20" fill="none"/>
<path d="M375.90 524.25H678.05" stroke="#444444" stroke-width="1.20" fill="none"/>
<path d="M376.50 497.99h4.6M677.50 497.99h-4.6M376.50 471.73h4.6M677.50 471.73h-4.6M376.50 445.47h4.6M677.50 445.47h-4.6M376.50 419.21h4.6M677.50 419.21h-4.6M376.50 392.94h4.6M677.50 392.94h-4.6M376.50 366.68h4.6M677.50 366.68h-4.6M376.50 340.42h4.6M677.50 340.42h-4.6M376.50 314.16h4.6M677.50 314.16h-4.6M527.00 287.90v4.6M527.00 524.25v-4.6" stroke="#4a4a4a" stroke-width="1.15" fill="none"/>
<g font-family='"Liberation Serif", "DejaVu Serif", serif' font-size="10" fill="#1e1e1e" text-anchor="end">
<text transform="translate(375.20 528.65) scale(0.88 1)">0</text>
<text transform="translate(375.20 502.39) scale(0.88 1)">0.5</text>
<text transform="translate(375.20 476.13) scale(0.88 1)">1</text>
<text transform="translate(375.20 449.87) scale(0.88 1)">1.5</text>
<text transform="translate(375.20 423.61) scale(0.88 1)">2</text>
<text transform="translate(375.20 397.34) scale(0.88 1)">2.5</text>
<text transform="translate(375.20 371.08) scale(0.88 1)">3</text>
<text transform="translate(375.20 344.82) scale(0.88 1)">3.5</text>
<text transform="translate(375.20 318.56) scale(0.88 1)">4</text>
<text transform="translate(375.20 292.30) scale(0.88 1)">4.5</text>
</g>
<g font-family='"Liberation Serif", "DejaVu Serif", serif' font-size="10" fill="#1e1e1e" text-anchor="middle">
<text transform="translate(378.00 535.75) scale(0.88 1)">0</text>
<text transform="translate(528.50 535.75) scale(0.88 1)">0.5</text>
<text transform="translate(679.00 535.75) scale(0.88 1)">1</text>
</g>
<text x="528.00" y="550.85" font-family='"Liberation Serif", "DejaVu Serif", serif' font-size="10.5" fill="#1e1e1e" text-anchor="middle">y</text>
<text transform="translate(351.50 406.07) rotate(-90)" font-family='"Liberation Serif", "DejaVu Serif", serif' font-size="12" fill="#1e1e1e" text-anchor="middle">u(y,t)</text>
<text x="524.40" y="329.80" font-family='"Liberation Sans", "DejaVu Sans", sans-serif' font-size="13.2" font-style="italic" fill="#1a1a1a" textLength="39.7" lengthAdjust="spacingAndGlyphs">Gr=2.5</text>
<clipPath id="c3"><rect x="376.20" y="287.90" width="301.60" height="237.05"/></clipPath>
<g clip-path="url(#c3)">
<path d="M376.50 471.73L377.25 470.99L378.00 470.29L378.76 469.62L379.51 469.02L380.26 468.47L381.01 467.95L381.77 467.45L382.52 466.96L383.27 466.52L384.02 466.12L384.78 465.79L385.53 465.53L386.28 465.31L387.04 465.10L387.79 464.90L388.54 464.70L389.29 464.52L390.05 464.36L390.80 464.21L391.55 464.09L392.30 463.99L393.06 463.91L393.81 463.87L394.56 463.85L395.31 463.87L396.06 463.93L396.82 464.03L397.57 464.16L398.32 464.31L399.07 464.50L399.83 464.71L400.58 464.93L401.33 465.17L402.08 465.42L402.84 465.69L403.59 465.95L404.34 466.22L405.10 466.49L405.85 466.75L406.60 467.00L407.35 467.26L408.11 467.53L408.86 467.82L409.61 468.12L410.36 468.44L411.12 468.76L411.87 469.10L412.62 469.45L413.37 469.80L414.12 470.16L414.88 470.53L415.63 470.90L416.38 471.27L417.13 471.64L417.89 472.02L418.64 472.39L419.39 472.75L420.14 473.12L420.90 473.48L421.65 473.83L422.40 474.18L423.15 474.53L423.91 474.88L424.66 475.23L425.41 475.58L426.17 475.93L426.92 476.28L427.67 476.64L428.42 476.99L429.18 477.34L429.93 477.70L430.68 478.06L431.43 478.41L432.19 478.77L432.94 479.13L433.69 479.48L434.44 479.84L435.19 480.20L435.95 480.56L436.70 480.92L437.45 481.28L438.20 481.64L438.96 482.01L439.71 482.38L440.46 482.75L441.22 483.13L441.97 483.51L442.72 483.88L443.47 484.26L444.23 484.65L444.98 485.03L445.73 485.41L446.48 485.79L447.24 486.18L447.99 486.56L448.74 486.95L449.49 487.33L450.25 487.72L451.00 488.10L451.75 488.48L452.50 488.86L453.25 489.24L454.01 489.62L454.76 489.99L455.51 490.37L456.26 490.74L457.02 491.11L457.77 491.47L458.52 491.84L459.27 492.20L460.03 492.55L460.78 492.91L461.53 493.26L462.29 493.60L463.04 493.94L463.79 494.28L464.54 494.61L465.30 494.94L466.05 495.26L466.80 495.57L469.81 496.82L472.82 498.04L475.83 499.24L478.84 500.40L481.85 501.53L484.86 502.63L487.87 503.67L490.88 504.67L493.89 505.61L496.90 506.50L499.91 507.33L502.92 508.14L505.93 508.91L508.94 509.65L511.95 510.36L514.96 511.04L517.97 511.69L520.98 512.32L523.99 512.91L527.00 513.48L530.01 514.03L533.02 514.56L536.03 515.07L539.04 515.56L542.05 516.04L545.06 516.49L548.07 516.92L551.08 517.34L554.09 517.73L557.10 518.10L560.11 518.46L563.12 518.81L566.13 519.15L569.14 519.48L572.15 519.79L575.16 520.08L578.17 520.36L581.18 520.63L584.19 520.87L587.20 521.10L590.21 521.31L593.22 521.51L596.23 521.70L599.24 521.88L602.25 522.06L605.26 522.22L608.27 522.37L611.28 522.52L614.29 522.65L617.30 522.78L620.31 522.90L623.32 523.01L626.33 523.12L629.34 523.23L632.35 523.33L635.36 523.42L638.37 523.51L641.38 523.59L644.39 523.66L647.40 523.72L650.41 523.78L653.42 523.84L656.43 523.89L659.44 523.94L662.45 523.99L665.46 524.03L668.47 524.07L671.48 524.10L674.49 524.13L677.50 524.14" stroke="#000080" stroke-width="1.5" fill="none" stroke-linejoin="round" stroke-linecap="round"/>
<path d="M376.50 468.73L379.40 473.93L373.60 473.93ZM406.60 464.00L409.50 469.20L403.70 469.20ZM436.70 477.92L439.60 483.12L433.80 483.12ZM466.80 492.57L469.70 497.77L463.90 497.77ZM496.90 503.50L499.80 508.70L494.00 508.70ZM527.00 510.48L529.90 515.68L524.10 515.68ZM557.10 515.10L560.00 520.30L554.20 520.30ZM587.20 518.10L590.10 523.30L584.30 523.30ZM617.30 519.78L620.20 524.98L614.40 524.98ZM647.40 520.72L650.30 525.92L644.50 525.92ZM677.50 521.14L680.40 526.34L674.60 526.34Z" fill="#000080"/>
<path d="M376.50 471.73L377.25 467.67L378.00 464.02L378.76 460.72L379.51 457.71L380.26 454.90L381.01 452.23L381.77 449.65L382.52 447.11L383.27 444.62L384.02 442.21L384.78 439.93L385.53 437.80L386.28 435.76L387.04 433.80L387.79 431.93L388.54 430.18L389.29 428.56L390.05 427.06L390.80 425.59L391.55 424.18L392.30 422.85L393.06 421.62L393.81 420.53L394.56 419.59L395.31 418.82L396.06 418.14L396.82 417.52L397.57 416.96L398.32 416.46L399.07 416.01L399.83 415.60L400.58 415.22L401.33 414.83L402.08 414.45L402.84 414.12L403.59 413.87L404.34 413.72L405.10 413.70L405.85 413.75L406.60 413.85L407.35 413.99L408.11 414.18L408.86 414.39L409.61 414.64L410.36 414.91L411.12 415.20L411.87 415.50L412.62 415.81L413.37 416.12L414.12 416.48L414.88 416.91L415.63 417.40L416.38 417.94L417.13 418.52L417.89 419.13L418.64 419.77L419.39 420.41L420.14 421.05L420.90 421.70L421.65 422.38L422.40 423.09L423.15 423.83L423.91 424.60L424.66 425.39L425.41 426.20L426.17 427.01L426.92 427.83L427.67 428.66L428.42 429.47L429.18 430.28L429.93 431.08L430.68 431.86L431.43 432.63L432.19 433.41L432.94 434.19L433.69 434.97L434.44 435.74L435.19 436.52L435.95 437.30L436.70 438.08L437.45 438.86L438.20 439.63L438.96 440.41L439.71 441.19L440.46 441.97L441.22 442.74L441.97 443.52L442.72 444.29L443.47 445.07L444.23 445.84L444.98 446.61L445.73 447.39L446.48 448.16L447.24 448.92L447.99 449.69L448.74 450.46L449.49 451.22L450.25 451.99L451.00 452.77L451.75 453.54L452.50 454.32L453.25 455.09L454.01 455.87L454.76 456.65L455.51 457.42L456.26 458.20L457.02 458.97L457.77 459.74L458.52 460.51L459.27 461.27L460.03 462.03L460.78 462.79L461.53 463.54L462.29 464.28L463.04 465.01L463.79 465.74L464.54 466.46L465.30 467.18L466.05 467.88L466.80 468.58L469.81 471.32L472.82 474.00L475.83 476.62L478.84 479.14L481.85 481.54L484.86 483.81L487.87 485.96L490.88 488.02L493.89 489.99L496.90 491.87L499.91 493.66L502.92 495.36L505.93 496.99L508.94 498.57L511.95 500.08L514.96 501.51L517.97 502.83L520.98 504.03L523.99 505.15L527.00 506.24L530.01 507.30L533.02 508.32L536.03 509.30L539.04 510.23L542.05 511.12L545.06 511.97L548.07 512.76L551.08 513.49L554.09 514.18L557.10 514.80L560.11 515.37L563.12 515.92L566.13 516.43L569.14 516.92L572.15 517.38L575.16 517.81L578.17 518.21L581.18 518.59L584.19 518.94L587.20 519.26L590.21 519.56L593.22 519.84L596.23 520.11L599.24 520.36L602.25 520.59L605.26 520.82L608.27 521.03L611.28 521.23L614.29 521.43L617.30 521.62L620.31 521.81L623.32 521.99L626.33 522.17L629.34 522.35L632.35 522.51L635.36 522.67L638.37 522.82L641.38 522.96L644.39 523.08L647.40 523.20L650.41 523.31L653.42 523.41L656.43 523.51L659.44 523.61L662.45 523.70L665.46 523.78L668.47 523.86L671.48 523.93L674.49 523.99L677.50 524.04" stroke="#ff0000" stroke-width="1.5" fill="none" stroke-linejoin="round" stroke-linecap="round"/>
<path d="M376.50 468.43L379.80 471.73L376.50 475.03L373.20 471.73ZM394.56 416.29L397.86 419.59L394.56 422.89L391.26 419.59ZM412.62 412.51L415.92 415.81L412.62 419.11L409.32 415.81ZM430.68 428.56L433.98 431.86L430.68 435.16L427.38 431.86ZM448.74 447.16L452.04 450.46L448.74 453.76L445.44 450.46ZM466.80 465.28L470.10 468.58L466.80 471.88L463.50 468.58ZM484.86 480.51L488.16 483.81L484.86 487.11L481.56 483.81ZM502.92 492.06L506.22 495.36L502.92 498.66L499.62 495.36ZM520.98 500.73L524.28 504.03L520.98 507.33L517.68 504.03ZM539.04 506.93L542.34 510.23L539.04 513.53L535.74 510.23ZM557.10 511.50L560.40 514.80L557.10 518.10L553.80 514.80ZM575.16 514.51L578.46 517.81L575.16 521.11L571.86 517.81ZM593.22 516.54L596.52 519.84L593.22 523.14L589.92 519.84ZM611.28 517.93L614.58 521.23L611.28 524.53L607.98 521.23ZM629.34 519.05L632.64 522.35L629.34 525.65L626.04 522.35ZM647.40 519.90L650.70 523.20L647.40 526.50L644.10 523.20ZM665.46 520.48L668.76 523.78L665.46 527.08L662.16 523.78Z" fill="#ff0000"/>
<path d="M376.50 471.73L377.25 464.04L378.00 456.84L378.76 450.21L379.51 444.13L380.26 438.46L381.01 433.07L381.77 427.83L382.52 422.74L383.27 418.04L384.02 413.98L384.78 410.42L385.53 407.15L386.28 404.00L387.04 400.80L387.79 397.55L388.54 394.39L389.29 391.46L390.05 388.89L390.80 386.57L391.55 384.40L392.30 382.37L393.06 380.46L393.81 378.66L394.56 376.95L395.31 375.31L396.06 373.66L396.82 372.10L397.57 370.77L398.32 369.77L399.07 369.04L399.83 368.34L400.58 367.67L401.33 367.05L402.08 366.46L402.84 365.93L403.59 365.46L404.34 365.06L405.10 364.73L405.85 364.47L406.60 364.30L407.35 364.22L408.11 364.26L408.86 364.45L409.61 364.80L410.36 365.25L411.12 365.81L411.87 366.43L412.62 367.10L413.37 367.80L414.12 368.49L414.88 369.16L415.63 369.77L416.38 370.36L417.13 370.96L417.89 371.56L418.64 372.19L419.39 372.84L420.14 373.53L420.90 374.27L421.65 375.07L422.40 375.93L423.15 376.90L423.91 378.09L424.66 379.42L425.41 380.82L426.17 382.19L426.92 383.46L427.67 384.68L428.42 385.89L429.18 387.09L429.93 388.29L430.68 389.52L431.43 390.77L432.19 392.04L432.94 393.32L433.69 394.61L434.44 395.89L435.19 397.16L435.95 398.41L436.70 399.64L437.45 400.85L438.20 402.05L438.96 403.24L439.71 404.42L440.46 405.60L441.22 406.76L441.97 407.92L442.72 409.08L443.47 410.24L444.23 411.40L444.98 412.56L445.73 413.72L446.48 414.89L447.24 416.06L447.99 417.25L448.74 418.45L449.49 419.66L450.25 420.87L451.00 422.10L451.75 423.33L452.50 424.56L453.25 425.80L454.01 427.03L454.76 428.27L455.51 429.50L456.26 430.73L457.02 431.96L457.77 433.18L458.52 434.39L459.27 435.59L460.03 436.77L460.78 437.95L461.53 439.11L462.29 440.25L463.04 441.37L463.79 442.48L464.54 443.56L465.30 444.63L466.05 445.66L466.80 446.67L469.81 450.63L472.82 454.51L475.83 458.29L478.84 461.95L481.85 465.49L484.86 468.88L487.87 472.11L490.88 475.16L493.89 478.01L496.90 480.66L499.91 483.13L502.92 485.50L505.93 487.77L508.94 489.93L511.95 491.99L514.96 493.95L517.97 495.81L520.98 497.58L523.99 499.25L527.00 500.83L530.01 502.35L533.02 503.85L536.03 505.31L539.04 506.71L542.05 508.05L545.06 509.30L548.07 510.45L551.08 511.49L554.09 512.40L557.10 513.17L560.11 513.83L563.12 514.43L566.13 514.97L569.14 515.48L572.15 515.94L575.16 516.38L578.17 516.79L581.18 517.18L584.19 517.57L587.20 517.95L590.21 518.32L593.22 518.69L596.23 519.04L599.24 519.38L602.25 519.70L605.26 520.01L608.27 520.31L611.28 520.59L614.29 520.85L617.30 521.10L620.31 521.33L623.32 521.56L626.33 521.78L629.34 521.98L632.35 522.18L635.36 522.37L638.37 522.54L641.38 522.71L644.39 522.86L647.40 522.99L650.41 523.11L653.42 523.23L656.43 523.35L659.44 523.46L662.45 523.56L665.46 523.66L668.47 523.74L671.48 523.82L674.49 523.88L677.50 523.93" stroke="#000000" stroke-width="1.5" fill="none" stroke-linejoin="round" stroke-linecap="round"/>
<path d="M373.30 471.73a3.2 3.2 0 1 0 6.4 0a3.2 3.2 0 1 0 -6.4 0ZM403.40 364.30a3.2 3.2 0 1 0 6.4 0a3.2 3.2 0 1 0 -6.4 0ZM433.50 399.64a3.2 3.2 0 1 0 6.4 0a3.2 3.2 0 1 0 -6.4 0ZM463.60 446.67a3.2 3.2 0 1 0 6.4 0a3.2 3.2 0 1 0 -6.4 0ZM493.70 480.66a3.2 3.2 0 1 0 6.4 0a3.2 3.2 0 1 0 -6.4 0ZM523.80 500.83a3.2 3.2 0 1 0 6.4 0a3.2 3.2 0 1 0 -6.4 0ZM553.90 513.17a3.2 3.2 0 1 0 6.4 0a3.2 3.2 0 1 0 -6.4 0ZM584.00 517.95a3.2 3.2 0 1 0 6.4 0a3.2 3.2 0 1 0 -6.4 0ZM614.10 521.10a3.2 3.2 0 1 0 6.4 0a3.2 3.2 0 1 0 -6.4 0ZM644.20 522.99a3.2 3.2 0 1 0 6.4 0a3.2 3.2 0 1 0 -6.4 0ZM674.30 523.93a3.2 3.2 0 1 0 6.4 0a3.2 3.2 0 1 0 -6.4 0Z" fill="#000000"/>
<path d="M376.50 471.73L377.25 462.37L378.00 452.98L378.76 443.36L379.51 433.89L380.26 425.74L381.01 418.36L381.77 411.00L382.52 403.52L383.27 396.18L384.02 388.99L384.78 381.83L385.53 375.39L386.28 370.22L387.04 365.83L387.79 361.45L388.54 356.50L389.29 351.37L390.05 346.76L390.80 342.63L391.55 338.81L392.30 335.30L393.06 332.13L393.81 329.29L394.56 326.72L395.31 324.38L396.06 322.21L396.82 320.17L397.57 318.21L398.32 316.39L399.07 314.75L399.83 313.20L400.58 311.67L401.33 310.26L402.08 309.08L402.84 308.24L403.59 307.69L404.34 307.19L405.10 306.74L405.85 306.36L406.60 306.06L407.35 305.85L408.11 305.76L408.86 305.80L409.61 305.97L410.36 306.26L411.12 306.63L411.87 307.06L412.62 307.54L413.37 308.04L414.12 308.61L414.88 309.35L415.63 310.23L416.38 311.21L417.13 312.27L417.89 313.37L418.64 314.47L419.39 315.59L420.14 316.79L420.90 318.06L421.65 319.39L422.40 320.75L423.15 322.15L423.91 323.61L424.66 325.12L425.41 326.67L426.17 328.24L426.92 329.82L427.67 331.44L428.42 333.10L429.18 334.79L429.93 336.53L430.68 338.31L431.43 340.12L432.19 341.95L432.94 343.79L433.69 345.63L434.44 347.47L435.19 349.33L435.95 351.23L436.70 353.15L437.45 355.07L438.20 356.95L438.96 358.76L439.71 360.50L440.46 362.13L441.22 363.69L441.97 365.20L442.72 366.66L443.47 368.10L444.23 369.52L444.98 370.94L445.73 372.38L446.48 373.85L447.24 375.36L447.99 376.93L448.74 378.54L449.49 380.19L450.25 381.86L451.00 383.55L451.75 385.24L452.50 386.94L453.25 388.63L454.01 390.31L454.76 392.00L455.51 393.69L456.26 395.38L457.02 397.07L457.77 398.77L458.52 400.45L459.27 402.14L460.03 403.81L460.78 405.45L461.53 407.09L462.29 408.72L463.04 410.36L463.79 412.02L464.54 413.72L465.30 415.47L466.05 417.38L466.80 419.21L469.81 425.33L472.82 431.14L475.83 436.67L478.84 441.89L481.85 446.83L484.86 451.48L487.87 455.86L490.88 459.95L493.89 463.77L496.90 467.32L499.91 470.65L502.92 473.82L505.93 476.84L508.94 479.70L511.95 482.40L514.96 484.96L517.97 487.38L520.98 489.65L523.99 491.79L527.00 493.79L530.01 495.68L533.02 497.50L536.03 499.24L539.04 500.89L542.05 502.47L545.06 503.95L548.07 505.35L551.08 506.67L554.09 507.89L557.10 509.02L560.11 510.08L563.12 511.09L566.13 512.06L569.14 512.98L572.15 513.85L575.16 514.67L578.17 515.44L581.18 516.15L584.19 516.82L587.20 517.42L590.21 517.99L593.22 518.55L596.23 519.08L599.24 519.58L602.25 520.05L605.26 520.49L608.27 520.90L611.28 521.26L614.29 521.57L617.30 521.83L620.31 522.06L623.32 522.28L626.33 522.48L629.34 522.67L632.35 522.84L635.36 522.99L638.37 523.13L641.38 523.26L644.39 523.37L647.40 523.46L650.41 523.55L653.42 523.63L656.43 523.71L659.44 523.78L662.45 523.85L665.46 523.91L668.47 523.96L671.48 524.00L674.49 524.03L677.50 524.04" stroke="#66ff00" stroke-width="1.5" fill="none" stroke-linejoin="round" stroke-linecap="round"/>
<path d="M376.50 468.73L379.40 473.93L373.60 473.93ZM406.60 303.06L409.50 308.26L403.70 308.26ZM436.70 350.15L439.60 355.35L433.80 355.35ZM466.80 416.21L469.70 421.41L463.90 421.41ZM496.90 464.32L499.80 469.52L494.00 469.52ZM527.00 490.79L529.90 495.99L524.10 495.99ZM557.10 506.02L560.00 511.22L554.20 511.22ZM587.20 514.42L590.10 519.62L584.30 519.62ZM617.30 518.83L620.20 524.03L614.40 524.03ZM647.40 520.46L650.30 525.66L644.50 525.66ZM677.50 521.04L680.40 526.24L674.60 526.24Z" fill="#66ff00"/>
</g>
<rect x="610.90" y="294.70" width="60.10" height="61.50" fill="#ffffff" stroke="#404040" stroke-width="1"/>
<path d="M612.40 302.70H632.20" stroke="#000080" stroke-width="2.2" fill="none"/>
<path d="M615.10 300.30L617.60 305.40L612.60 305.40ZM621.70 300.30L624.20 305.40L619.20 305.40ZM628.50 300.30L631.00 305.40L626.00 305.40Z" fill="#000080"/>
<text x="635.50" y="305.70" font-family='"Liberation Serif", "DejaVu Serif", serif' font-size="12.3" fill="#1a1a1a" textLength="28.6" lengthAdjust="spacingAndGlyphs">α=0.1</text>
<path d="M612.40 317.90H632.20" stroke="#ff0000" stroke-width="1.4" fill="none"/>
<path d="M615.80 314.60L619.10 317.90L615.80 321.20L612.50 317.90ZM628.00 314.60L631.30 317.90L628.00 321.20L624.70 317.90Z" fill="#ff0000"/>
<text x="635.50" y="320.90" font-family='"Liberation Serif", "DejaVu Serif", serif' font-size="12.3" fill="#1a1a1a" textLength="28.6" lengthAdjust="spacingAndGlyphs">α=0.2</text>
<path d="M612.40 332.80H632.20" stroke="#000000" stroke-width="1.4" fill="none"/>
<circle cx="615.80" cy="332.80" r="3.25" fill="#000000"/><circle cx="628.10" cy="332.80" r="3.25" fill="#000000"/>
<text x="635.50" y="335.80" font-family='"Liberation Serif", "DejaVu Serif", serif' font-size="12.3" fill="#1a1a1a" textLength="28.6" lengthAdjust="spacingAndGlyphs">α=0.3</text>
<path d="M612.40 348.50H632.20" stroke="#66ff00" stroke-width="2.2" fill="none"/>
<path d="M615.10 346.10L617.60 351.20L612.60 351.20ZM621.70 346.10L624.20 351.20L619.20 351.20ZM628.50 346.10L631.00 351.20L626.00 351.20Z" fill="#66ff00"/>
<text x="635.50" y="351.50" font-family='"Liberation Serif", "DejaVu Serif", serif' font-size="12.3" fill="#1a1a1a" textLength="28.6" lengthAdjust="spacingAndGlyphs">α=0.4</text>
</g>
</svg>
</body>
</html>
